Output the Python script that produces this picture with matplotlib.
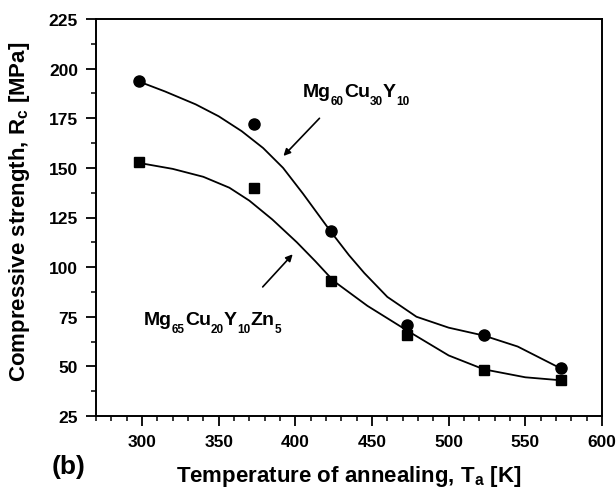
import numpy as np
import matplotlib
matplotlib.use("Agg")
import matplotlib.pyplot as plt
from matplotlib.ticker import MultipleLocator

plt.rcParams['font.family'] = 'Liberation Sans'
plt.rcParams['font.weight'] = 'bold'
plt.rcParams['mathtext.fontset'] = 'custom'
plt.rcParams['mathtext.rm'] = 'Liberation Sans:bold'
plt.rcParams['mathtext.it'] = 'Liberation Sans:bold'
plt.rcParams['mathtext.bf'] = 'Liberation Sans:bold'
plt.rcParams['mathtext.default'] = 'rm'

# measured points
temp = [298, 373, 423, 473, 523, 573]
rc_mg60 = [194, 172, 118, 71, 66, 49]
rc_mg65 = [153, 140, 93, 66, 48, 43]

# fitted curves
curve60_t = [298, 315, 335, 350, 365, 379, 392, 405, 423, 435, 445, 460, 479, 500, 523, 545, 573]
curve60_v = [193.5, 188.5, 182, 176, 168.5, 160, 150, 137, 118, 106, 97, 85, 75, 69.5, 65.5, 60, 49]
curve65_t = [298, 320, 340, 357, 370, 385, 401, 413, 425, 447, 473, 500, 523, 550, 573]
curve65_v = [152.5, 149.5, 145.5, 140, 133.5, 124, 112.5, 103, 93, 80.5, 68, 55.5, 48.5, 44.5, 43]

# alloy names: (text, is_subscript)
name60 = [('Mg', 0), ('60', 1), ('Cu', 0), ('30', 1), ('Y', 0), ('10', 1)]
name65 = [('Mg', 0), ('65', 1), ('Cu', 0), ('20', 1), ('Y', 0), ('10', 1), ('Zn', 0), ('5', 1)]

W, H = 616, 489
fig = plt.figure(figsize=(W/100, H/100), dpi=100)
ax = fig.add_axes([96/W, 1-417/H, 506/W, 397/H])

ax.plot(curve60_t, curve60_v, '-', color='black', lw=1.3)
ax.plot(curve65_t, curve65_v, '-', color='black', lw=1.3)
ax.plot(temp, rc_mg60, 'o', color='black', ms=8)
ax.plot(temp, rc_mg65, 's', color='black', ms=7.5)

ax.set_xlim(270, 600)
ax.set_ylim(25, 225)
ax.xaxis.set_major_locator(MultipleLocator(50))
ax.xaxis.set_minor_locator(MultipleLocator(10))
ax.yaxis.set_major_locator(MultipleLocator(25))
ax.yaxis.set_minor_locator(MultipleLocator(12.5))
ax.tick_params(which='major', direction='out', length=7, width=1.3, labelsize=12.5, pad=6)
ax.tick_params(which='minor', direction='out', length=3.7, width=1.1)
for s in ax.spines.values():
    s.set_linewidth(1.4)

ax.set_xlabel('Temperature of annealing, T$_a$ [K]', fontsize=16, fontweight='bold')
ax.set_ylabel('Compressive strength, R$_c$ [MPa]', fontsize=16, fontweight='bold')
ax.xaxis.set_label_coords(0.5, -0.118)
ax.yaxis.set_label_coords(-0.126, 0.518)

ax.annotate('', xy=(391, 155), xytext=(417, 176),
            arrowprops=dict(arrowstyle='-|>', color='black', lw=1.2, mutation_scale=10))
ax.annotate('', xy=(399.5, 107.5), xytext=(377.5, 89),
            arrowprops=dict(arrowstyle='-|>', color='black', lw=1.2, mutation_scale=10))


def chem(x0, y0, parts, size=14, subsize=8.5, drop=8):
    # write a formula piece by piece, x0/y0 in pixels from top-left
    r = fig.canvas.get_renderer()
    x = x0
    for s, sub in parts:
        yy = y0 + drop if sub else y0
        t = fig.text(x/W, 1-yy/H, s, fontsize=subsize if sub else size,
                     fontweight='bold', ha='left', va='baseline')
        x = t.get_window_extent(r).x1


chem(303, 97, name60)
chem(144, 325, name65)

fig.text(52/W, 1-474/H, '(b)', fontsize=19, fontweight='bold', ha='left', va='baseline')

fig.savefig('out.png', dpi=100)
